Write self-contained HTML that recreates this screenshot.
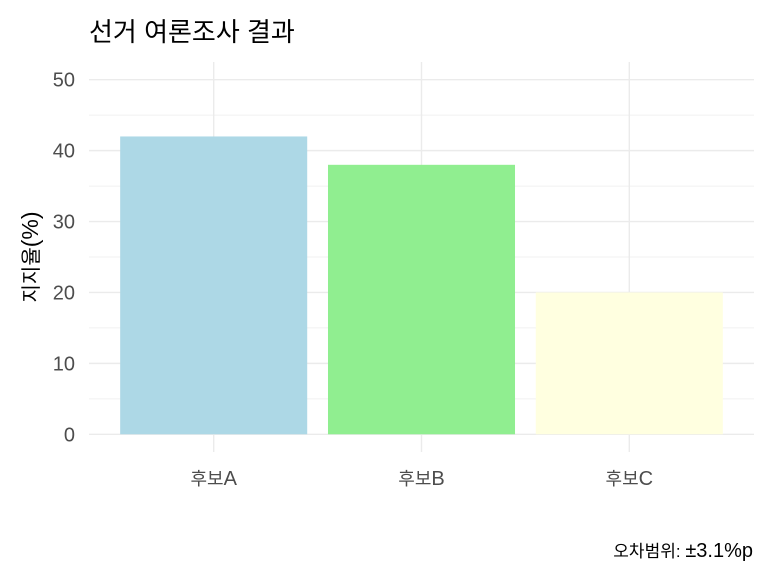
<!DOCTYPE html>
<html><head><meta charset="utf-8"><style>
html,body{margin:0;padding:0;background:#fff;}
svg{display:block;font-family:"Liberation Sans","Noto Sans CJK KR",sans-serif;}
</style></head><body>
<svg id="chart" width="768" height="576" viewBox="0 0 768 576">
<text x="89" y="41" font-size="26" fill="#000">선거 여론조사 결과</text>
<g id="grid"></g>
<g id="bars"></g>
<g id="axes"></g>
<text transform="translate(38,257) rotate(-90)" text-anchor="middle" font-size="20" fill="#000">지지율<tspan font-size="23">(%)</tspan></text>
<text x="753" y="557" text-anchor="end" font-size="17" fill="#000">오차범위: <tspan font-size="20">±3.1%p</tspan></text>
</svg>
<script>
const categories = ["후보A","후보B","후보C"];
const values = [42, 38, 20];
const colors = ["#ADD8E6","#90EE90","#FFFFE0"];
const yTicks = [0,10,20,30,40,50];
const yMinor = [5,15,25,35,45];

const NS="http://www.w3.org/2000/svg";
const pl=89, pr=754, pt=62, pb=452;
const ymin=-2.5, ymax=52.5;
function y(v){return pb-(v-ymin)/(ymax-ymin)*(pb-pt);}
const step=(pr-pl)/(categories.length+0.2);
function x(i){return pl+step*(0.6+i);}
function mk(tag,attrs,parent){const e=document.createElementNS(NS,tag);for(const k in attrs)e.setAttribute(k,attrs[k]);parent.appendChild(e);return e;}
const grid=document.getElementById('grid'), bars=document.getElementById('bars'), axes=document.getElementById('axes');
yMinor.forEach(v=>{const l=mk('line',{x1:pl,x2:pr,y1:y(v),y2:y(v),stroke:'#f0f0f0','stroke-width':1},grid);

});
yTicks.forEach(v=>{const l=mk('line',{x1:pl,x2:pr,y1:y(v),y2:y(v),stroke:'#ebebeb','stroke-width':1.4},grid);


const t=mk('text',{x:75,y:y(v)+7,'text-anchor':'end','font-size':20,fill:'#4d4d4d'},axes);t.textContent=v;

});
categories.forEach((c,i)=>{const l=mk('line',{x1:x(i),x2:x(i),y1:pt,y2:pb,stroke:'#ebebeb','stroke-width':1.4},grid);


const w=step*0.9;
const r=mk('rect',{x:x(i)-w/2,y:y(values[i]),width:w,height:y(0)-y(values[i]),fill:colors[i]},bars);


const t=mk('text',{x:x(i),y:485,'text-anchor':'middle','font-size':18,fill:'#4d4d4d'},axes);
const k=mk('tspan',{},t);k.textContent=c.slice(0,2);
const s=mk('tspan',{'font-size':20},t);s.textContent=c.slice(2);

});
</script>
</body></html>
